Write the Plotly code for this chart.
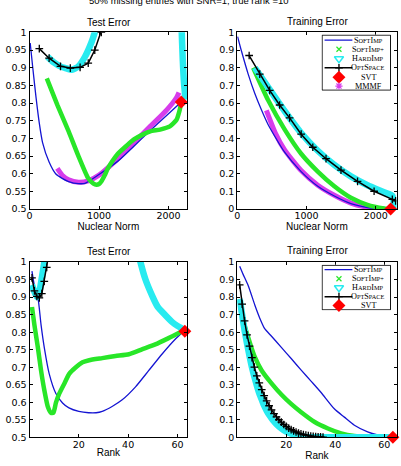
import plotly.graph_objects as go

W, H = 401, 466

# ---------------- data ----------------
# Panel 1: test error vs nuclear norm
p1_soft_x = [10, 47, 94, 141, 188, 282, 376, 469, 563, 704, 798, 1000, 1268, 1502, 1737, 1972, 2183]
p1_soft_y = [0.97, 0.90, 0.816, 0.743, 0.688, 0.633, 0.60, 0.587, 0.578, 0.572, 0.573, 0.598, 0.635, 0.678, 0.722, 0.765, 0.803]
p1_mmmf_x = [400, 470, 563, 704, 845, 1000, 1268, 1502, 1737, 1972, 2113, 2150]
p1_mmmf_y = [0.615, 0.596, 0.583, 0.576, 0.58, 0.596, 0.642, 0.688, 0.734, 0.78, 0.815, 0.83]
p1_softp_x = [249, 400, 563, 700, 845, 920, 962, 1000, 1033, 1080, 1127, 1200, 1268, 1400, 1502, 1620, 1737, 1878, 2019, 2113, 2160, 2180]
p1_softp_y = [0.87, 0.795, 0.72, 0.652, 0.587, 0.572, 0.569, 0.571, 0.578, 0.595, 0.615, 0.638, 0.656, 0.68, 0.697, 0.71, 0.72, 0.725, 0.734, 0.752, 0.78, 0.80]
p1_hard_x = [258, 350, 450, 516, 610, 704, 798, 892, 939, 980, None, 2185, 2195, 2205, 2215, 2225, 2235, 2240]
p1_hard_y = [0.931, 0.915, 0.903, 0.899, 0.894, 0.904, 0.931, 0.972, 1.0, 1.03, None, 1.03, 0.97, 0.92, 0.88, 0.85, 0.83, 0.81]
p1_opt_x = [141, 282, 446, 587, 728, 845, 939, 1033, 1060]
p1_opt_y = [0.954, 0.927, 0.904, 0.899, 0.901, 0.913, 0.95, 1.0, 1.02]
p1_svt_x = [2183]
p1_svt_y = [0.803]

# Panel 2: training error vs nuclear norm
p2_soft_x = [5, 62, 158, 254, 349, 445, 684, 923, 1163, 1402, 1641, 1880, 2120, 2150]
p2_soft_y = [0.976, 0.893, 0.764, 0.654, 0.562, 0.479, 0.322, 0.212, 0.129, 0.074, 0.031, 0.009, 0.0, 0.0]
p2_mmmf_x = [421, 550, 684, 923, 1163, 1402, 1641, 1880, 2120]
p2_mmmf_y = [0.558, 0.43, 0.335, 0.218, 0.135, 0.078, 0.034, 0.01, 0.0]
p2_softp_x = [230, 445, 684, 923, 1163, 1402, 1641, 1880, 2120, 2180]
p2_softp_y = [0.80, 0.617, 0.451, 0.313, 0.212, 0.129, 0.064, 0.024, 0.003, 0.0]
p2_hard_x = [254, 445, 684, 923, 1163, 1402, 1641, 1880, 2120, 2240, 2260, 2270, 2280, 2290]
p2_hard_y = [0.80, 0.69, 0.555, 0.43, 0.33, 0.25, 0.185, 0.135, 0.095, 0.075, 0.04, 0.02, 0.01, 0.0]
p2_opt_x = [172, 325, 469, 612, 756, 923, 1091, 1282, 1498, 1737, 1976, 2239, 2287]
p2_opt_y = [0.869, 0.764, 0.672, 0.589, 0.516, 0.424, 0.35, 0.285, 0.221, 0.157, 0.101, 0.055, 0.046]
p2_svt_x = [2215]
p2_svt_y = [0.0]

# Panel 3: test error vs rank
p3_soft_x = [1, 2, 3.4, 4.7, 6, 8, 10.7, 13.4, 16, 20, 24, 27, 29.5, 33.5, 37.6, 43, 48.3, 53.7, 59, 62.4]
p3_soft_y = [0.974, 0.932, 0.90, 0.82, 0.756, 0.681, 0.625, 0.598, 0.584, 0.574, 0.57, 0.57, 0.574, 0.588, 0.607, 0.644, 0.69, 0.737, 0.779, 0.802]
p3_softp_x = [1, 2, 3.4, 4.7, 6, 7.4, 8.7, 9.7, 10.7, 12.1, 14.1, 16.1, 18.8, 21.5, 24.2, 29.5, 34.9, 40.3, 45.6, 51, 56.4, 61.7]
p3_softp_y = [0.872, 0.82, 0.756, 0.69, 0.635, 0.588, 0.57, 0.57, 0.598, 0.625, 0.653, 0.681, 0.70, 0.714, 0.72, 0.726, 0.732, 0.737, 0.751, 0.765, 0.783, 0.802]
p3_hard_x = [1, 2, 3, 4, 5, 6, 7, None, 44, 45, 47, 50, 52, 55, 58, 60, 63]
p3_hard_y = [0.935, 0.915, 0.90, 0.915, 0.955, 1.0, 1.05, None, 1.03, 1.0, 0.951, 0.90, 0.872, 0.849, 0.828, 0.818, 0.806]
p3_opt_x = [1, 2, 3, 4, 5, 6, 7, 8]
p3_opt_y = [0.955, 0.918, 0.902, 0.898, 0.91, 0.945, 0.985, 1.03]
p3_svt_x = [63]
p3_svt_y = [0.803]

# Panel 4: training error vs rank
p4_soft_x = [1, 2.4, 4.5, 7.2, 9.2, 11.2, 13.9, 18, 22.1, 26.1, 30.2, 34.3, 39.7, 43.7, 47.8, 53.2, 57.3, 60.7]
p4_soft_y = [0.976, 0.93, 0.865, 0.754, 0.68, 0.62, 0.578, 0.513, 0.448, 0.383, 0.319, 0.254, 0.161, 0.115, 0.069, 0.031, 0.013, 0.004]
p4_softp_x = [1, 2.4, 4.5, 7.2, 9.9, 13.9, 18, 22.1, 26.1, 31.6, 37, 42.4, 47.8, 55.9]
p4_softp_y = [0.781, 0.67, 0.569, 0.457, 0.383, 0.309, 0.244, 0.189, 0.143, 0.087, 0.05, 0.022, 0.007, 0.0]
p4_hard_x = [1, 2, 3, 4, 5, 6, 7, 8, 9, 10, 11, 12, 13, 14, 15, 16, 18, 20, 22, 24, 26, 28, 30, 35, 40, 45, 50, 55, 60, 63]
p4_hard_y = [0.79, 0.70, 0.61, 0.535, 0.465, 0.40, 0.345, 0.295, 0.25, 0.215, 0.18, 0.152, 0.128, 0.108, 0.09, 0.075, 0.05, 0.032, 0.02, 0.011, 0.005, 0.002, 0.0, 0.0, 0.0, 0.0, 0.0, 0.0, 0.0, 0.0]
p4_opt_x = list(range(1, 36))
p4_opt_y = [0.87, 0.76, 0.665, 0.585, 0.52, 0.455, 0.40, 0.35, 0.31, 0.272, 0.238, 0.208, 0.18, 0.156, 0.135, 0.116, 0.1, 0.086, 0.073, 0.062, 0.052, 0.044, 0.036, 0.03, 0.024, 0.019, 0.015, 0.012, 0.009, 0.007, 0.005, 0.004, 0.003, 0.002, 0.001]
p4_svt_x = [63.5]
p4_svt_y = [0.0]

# ticks
nn_ticks = [0, 1000, 2000]
rank_ticks = [20, 40, 60]
te_ticks = [0.5, 0.55, 0.6, 0.65, 0.7, 0.75, 0.8, 0.85, 0.9, 0.95, 1]
te_labels = ["0.5", "0.55", "0.6", "0.65", "0.7", "0.75", "0.8", "0.85", "0.9", "0.95", "1"]
tr_ticks = [0, 0.1, 0.2, 0.3, 0.4, 0.5, 0.6, 0.7, 0.8, 0.9, 1]
tr_labels = ["0", "0.1", "0.2", "0.3", "0.4", "0.5", "0.6", "0.7", "0.8", "0.9", "1"]

SC = "<span style='font-size:6.3px'>"
legend_names = [f"S{SC}OFT</span>I{SC}MP</span>",
                f"S{SC}OFT</span>I{SC}MP+</span>",
                f"H{SC}ARD</span>I{SC}MP</span>",
                f"O{SC}PT</span>S{SC}PACE</span>",
                "SVT", "MMMF"]

BLUE = "rgb(20,20,210)"
GREEN = "rgb(40,230,40)"
CYAN = "rgb(40,235,240)"
MAG = "rgb(215,60,235)"
RED = "rgb(255,0,0)"

fig = go.Figure()


def add_panel(n, soft, softp, hard, opt, svt, mmmf=None):
    xa, ya = ("x", "y") if n == 1 else (f"x{n}", f"y{n}")
    if mmmf:
        fig.add_trace(go.Scatter(x=mmmf[0], y=mmmf[1], mode="lines", xaxis=xa, yaxis=ya,
                                 line=dict(color=MAG, width=5, shape="spline", smoothing=0.6),
                                 showlegend=False))
    fig.add_trace(go.Scatter(x=soft[0], y=soft[1], mode="lines", xaxis=xa, yaxis=ya,
                             line=dict(color=BLUE, width=1.3, shape="spline", smoothing=0.6),
                             showlegend=False))
    fig.add_trace(go.Scatter(x=softp[0], y=softp[1], mode="lines", xaxis=xa, yaxis=ya,
                             line=dict(color=GREEN, width=4.5, shape="spline", smoothing=0.5),
                             showlegend=False))
    fig.add_trace(go.Scatter(x=hard[0], y=hard[1], mode="lines", xaxis=xa, yaxis=ya,
                             line=dict(color=CYAN, width=6.5, shape="spline", smoothing=0.5),
                             showlegend=False))
    fig.add_trace(go.Scatter(x=opt[0], y=opt[1], mode="lines+markers", xaxis=xa, yaxis=ya,
                             line=dict(color="black", width=1.5),
                             marker=dict(symbol="cross-thin", size=5.5, color="black",
                                         line=dict(color="black", width=1.3)),
                             showlegend=False))
    fig.add_trace(go.Scatter(x=svt[0], y=svt[1], mode="markers", xaxis=xa, yaxis=ya,
                             marker=dict(symbol="diamond", size=10, color=RED),
                             cliponaxis=False, showlegend=False))


add_panel(1, (p1_soft_x, p1_soft_y), (p1_softp_x, p1_softp_y), (p1_hard_x, p1_hard_y),
          (p1_opt_x, p1_opt_y), (p1_svt_x, p1_svt_y), (p1_mmmf_x, p1_mmmf_y))
add_panel(2, (p2_soft_x, p2_soft_y), (p2_softp_x, p2_softp_y), (p2_hard_x, p2_hard_y),
          (p2_opt_x, p2_opt_y), (p2_svt_x, p2_svt_y), (p2_mmmf_x, p2_mmmf_y))
add_panel(3, (p3_soft_x, p3_soft_y), (p3_softp_x, p3_softp_y), (p3_hard_x, p3_hard_y),
          (p3_opt_x, p3_opt_y), (p3_svt_x, p3_svt_y))
add_panel(4, (p4_soft_x, p4_soft_y), (p4_softp_x, p4_softp_y), (p4_hard_x, p4_hard_y),
          (p4_opt_x, p4_opt_y), (p4_svt_x, p4_svt_y))


# ---------------- manual legends (pixel-coordinate helper axes) ----------------
def add_legend(n, box, rows, names):
    xa, ya = f"x{n}", f"y{n}"
    x0, x1, y0, y1 = box
    fig.add_trace(go.Scatter(x=[x0 + 0.5, x1 - 0.5, x1 - 0.5, x0 + 0.5, x0 + 0.5],
                             y=[y0 + 0.5, y0 + 0.5, y1 - 0.5, y1 - 0.5, y0 + 0.5],
                             mode="lines", fill="toself", fillcolor="white",
                             line=dict(color="black", width=1), xaxis=xa, yaxis=ya, showlegend=False))
    lx0, lx1, mx = x0 + 3, x0 + 31, x0 + 17.5
    line_styles = {0: dict(color=BLUE, width=1.3), 3: dict(color="black", width=1.5)}
    marker_styles = {
        1: dict(symbol="x-thin", size=5, color=GREEN, line=dict(color=GREEN, width=1.2)),
        2: dict(symbol="triangle-down-open", size=8, color=CYAN, line=dict(color=CYAN, width=1.5)),
        3: dict(symbol="cross-thin", size=5.5, color="black", line=dict(color="black", width=1.3)),
        4: dict(symbol="diamond", size=10, color=RED),
        5: dict(symbol="asterisk-open", size=6, color=MAG, line=dict(color=MAG, width=1.2)),
    }
    for i, (ry, name) in enumerate(zip(rows, names)):
        if i in line_styles:
            fig.add_trace(go.Scatter(x=[lx0, lx1], y=[ry, ry], mode="lines", line=line_styles[i],
                                     xaxis=xa, yaxis=ya, showlegend=False))
        if i in marker_styles:
            fig.add_trace(go.Scatter(x=[mx], y=[ry], mode="markers", marker=marker_styles[i],
                                     xaxis=xa, yaxis=ya, showlegend=False, cliponaxis=False))
        fig.add_annotation(x=x0 + 47, y=ry, xref=xa, yref=ya, text=name, showarrow=False,
                           xanchor="center", yanchor="middle",
                           font=dict(family="Liberation Serif", size=8.2, color="black"))


add_legend(5, (321, 391, 29.3, 86.7), [35, 44.3, 54, 63.3, 73, 82], legend_names)
add_legend(6, (321, 391, 265, 311.7), [270, 279.3, 288.5, 297.7, 306.7], legend_names[:5])

# ---------------- layout ----------------
tickfont = dict(family="DejaVu Sans", size=9.5, color="black")
axcommon = dict(showline=True, linecolor="black", linewidth=1, mirror="ticks", ticks="inside",
                ticklen=3, tickcolor="black", showgrid=False, zeroline=False, tickfont=tickfont)
titlefont = dict(family="Liberation Sans", size=10, color="black")


def px_x(a, b):
    return [a / W, b / W]


def px_y(top, bottom):
    return [1 - bottom / H, 1 - top / H]


dom_x_left = px_x(26.7, 185.7)
dom_x_right = px_x(236, 396.5)
dom_y_top = px_y(27, 208)
dom_y_bot = px_y(262.3, 441.7)

xcommon = dict(axcommon, ticklabelstandoff=-2)

fig.update_layout(
    width=W, height=H, margin=dict(l=0, r=0, t=0, b=0),
    paper_bgcolor="white", plot_bgcolor="white", showlegend=False,
    xaxis=dict(domain=dom_x_left, range=[0, 2270], tickvals=nn_ticks, anchor="y",
               title=dict(text="Nuclear Norm", font=titlefont, standoff=0), **xcommon),
    yaxis=dict(domain=dom_y_top, range=[0.5, 1], tickvals=te_ticks, ticktext=te_labels, anchor="x", **axcommon),
    xaxis2=dict(domain=dom_x_right, range=[0, 2300], tickvals=nn_ticks, anchor="y2",
                title=dict(text="Nuclear Norm", font=titlefont, standoff=0), **xcommon),
    yaxis2=dict(domain=dom_y_top, range=[0, 1], tickvals=tr_ticks, ticktext=tr_labels, anchor="x2", **axcommon),
    xaxis3=dict(domain=dom_x_left, range=[0, 64], tickvals=rank_ticks, anchor="y3",
                title=dict(text="Rank", font=titlefont, standoff=0), **xcommon),
    yaxis3=dict(domain=dom_y_bot, range=[0.5, 1], tickvals=te_ticks, ticktext=te_labels, anchor="x3", **axcommon),
    xaxis4=dict(domain=dom_x_right, range=[0, 65], tickvals=rank_ticks, anchor="y4",
                title=dict(text="Rank", font=titlefont, standoff=0), **xcommon),
    yaxis4=dict(domain=dom_y_bot, range=[0, 1], tickvals=tr_ticks, ticktext=tr_labels, anchor="x4", **axcommon),
    xaxis5=dict(domain=px_x(321, 391), range=[321, 391], visible=False, anchor="y5", fixedrange=True),
    yaxis5=dict(domain=px_y(29.3, 86.7), range=[86.7, 29.3], visible=False, anchor="x5", fixedrange=True),
    xaxis6=dict(domain=px_x(321, 391), range=[321, 391], visible=False, anchor="y6", fixedrange=True),
    yaxis6=dict(domain=px_y(265, 311.7), range=[311.7, 265], visible=False, anchor="x6", fixedrange=True),
)

titles = [("Test Error", 106.7, 16.7), ("Training Error", 316.7, 15.7),
          ("Test Error", 106.7, 251), ("Training Error", 316.7, 250)]
for t, x, y in titles:
    fig.add_annotation(x=x / W, y=1 - y / H, xref="paper", yref="paper", text=t, showarrow=False,
                       xanchor="center", yanchor="middle", font=titlefont)

fig.add_annotation(x=187 / W, y=1 + 6 / H, xref="paper", yref="paper",
                   text="50% missing entries with SNR=1, true rank =10", showarrow=False,
                   xanchor="center", yanchor="middle",
                   font=dict(family="Liberation Sans", size=9.5, color="black"))

fig.write_html("out.html")
